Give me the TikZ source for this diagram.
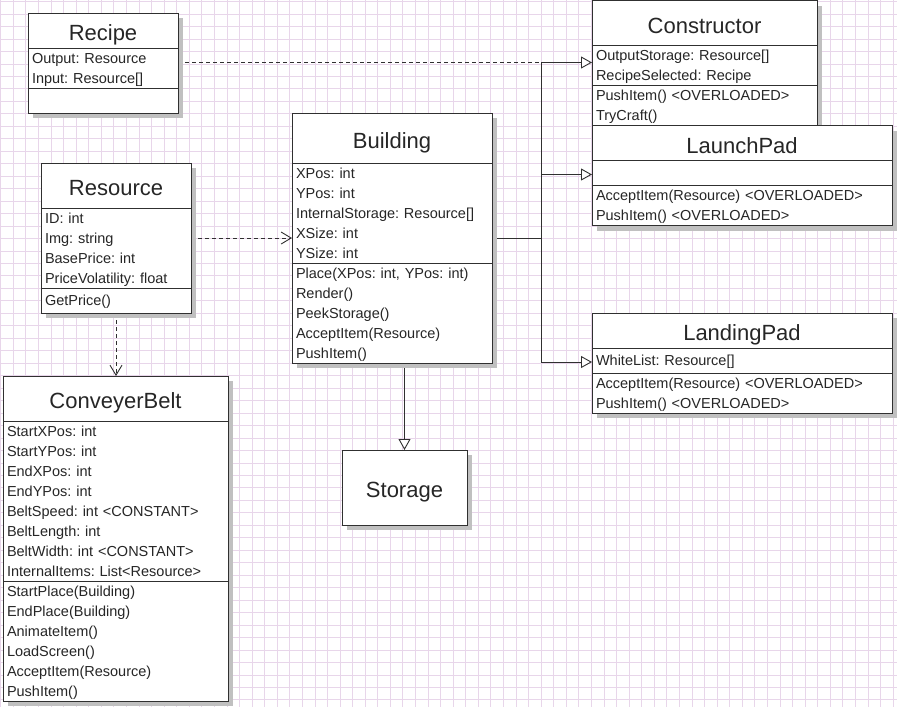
\documentclass[tikz,border=0pt]{standalone}
\usepackage{fontspec}
\setmainfont{Liberation Sans}
\usetikzlibrary{arrows.meta, positioning, shadows, backgrounds}
\definecolor{cline}{HTML}{303030}
\definecolor{ctext}{HTML}{262626}
\definecolor{cgrid}{HTML}{E8D6EA}
\definecolor{cshadow}{HTML}{C0C0C0}
\newcommand\rowstrut{\rule[-5pt]{0pt}{20pt}}
\frenchspacing
\tikzset{
  every node/.style={outer sep=0pt},
  umlbox/.style={draw=cline, fill=white, line width=0.9pt, text=ctext,
    drop shadow={shadow xshift=5pt, shadow yshift=-5pt, fill=cshadow, opacity=1}},
  classname/.style={umlbox, font=\fontsize{22}{26}\selectfont, minimum width=#1,
    inner sep=0pt, text height=20pt, text depth=0pt},
  members/.style={umlbox, font=\fontsize{14.5}{20}\selectfont, text width=#1, align=left,
    inner xsep=4pt, inner ysep=0pt,
    execute at begin node=\rowstrut, execute at end node=\rowstrut},
  gridline/.style={draw=cgrid, line width=0.7pt},
  inherit/.style={draw=cline, line width=0.9pt, -{Triangle[length=11pt, width=12pt, fill=white]}},
  uses/.style={draw=cline, line width=0.9pt, dash pattern=on 4pt off 3pt,
    -{Straight Barb[length=10pt, width=12pt]}},
  dependency/.style={draw=cline, line width=0.9pt, dash pattern=on 4pt off 3pt},
}
\begin{document}
\begin{tikzpicture}[x=1pt, y=-1pt]
  \useasboundingbox (0,0) rectangle (897,707);
  % paper grid
  \begin{scope}[on background layer]
    \fill[white] (0,0) rectangle (897,707);
    \foreach \i in {0,...,71} \draw[gridline] ({0.6+\i*12.57},0) -- ++(0,707);
    \foreach \j in {0,...,56} \draw[gridline] (0,{1.5+\j*12.47}) -- ++(897,0);
  \end{scope}
  % classes
  \node[classname=150pt, minimum height=35pt, anchor=north west] (recipe) at (28,13) {Recipe};
  \node[members=142pt, below=0pt of recipe] (recipe attrs) {Output: Resource\\Input: Resource[]};
  \node[members=142pt, minimum height=25pt, below=0pt of recipe attrs] (recipe ops) {};

  \node[classname=150pt, minimum height=45pt, anchor=north west] (resource) at (41,163) {Resource};
  \node[members=142pt, below=0pt of resource] (resource attrs)
    {ID: int\\Img: string\\BasePrice: int\\PriceVolatility: float};
  \node[members=142pt, minimum height=25pt, below=0pt of resource attrs] (resource ops) {GetPrice()};

  \node[classname=200pt, minimum height=50pt, anchor=north west] (building) at (292,113) {Building};
  \node[members=192pt, below=0pt of building] (building attrs)
    {XPos: int\\YPos: int\\InternalStorage: Resource[]\\XSize: int\\YSize: int};
  \node[members=192pt, below=0pt of building attrs] (building ops)
    {Place(XPos: int, YPos: int)\\Render()\\PeekStorage()\\AcceptItem(Resource)\\PushItem()};

  \node[classname=225pt, minimum height=45pt, anchor=north west] (conveyer) at (3,376) {ConveyerBelt};
  \node[members=217pt, below=0pt of conveyer] (conveyer attrs)
    {StartXPos: int\\StartYPos: int\\EndXPos: int\\EndYPos: int\\BeltSpeed: int <CONSTANT>\\BeltLength: int\\BeltWidth: int <CONSTANT>\\InternalItems: List<Resource>};
  \node[members=217pt, below=0pt of conveyer attrs] (conveyer ops)
    {StartPlace(Building)\\EndPlace(Building)\\AnimateItem()\\LoadScreen()\\AcceptItem(Resource)\\PushItem()};

  \node[classname=125pt, minimum height=75pt, anchor=north west] (storage) at (342,450) {Storage};

  \node[classname=225pt, minimum height=45pt, anchor=north west] (constructor) at (592,0.5) {Constructor};
  \node[members=217pt, below=0pt of constructor] (constructor attrs)
    {OutputStorage: Resource[]\\RecipeSelected: Recipe};
  \node[members=217pt, below=0pt of constructor attrs] (constructor ops)
    {PushItem() <OVERLOADED>\\TryCraft()};

  \node[classname=300pt, minimum height=35pt, below=0pt of constructor ops.south west, anchor=north west] (launchpad) {LaunchPad};
  \node[members=292pt, minimum height=25pt, below=0pt of launchpad] (launchpad attrs) {};
  \node[members=292pt, below=0pt of launchpad attrs] (launchpad ops)
    {AcceptItem(Resource) <OVERLOADED>\\PushItem() <OVERLOADED>};

  \node[classname=300pt, minimum height=35pt, anchor=north west] (landingpad) at (592,313) {LandingPad};
  \node[members=292pt, minimum height=25pt, below=0pt of landingpad] (landingpad attrs) {WhiteList: Resource[]};
  \node[members=292pt, below=0pt of landingpad attrs] (landingpad ops)
    {AcceptItem(Resource) <OVERLOADED>\\PushItem() <OVERLOADED>};

  % relations
  \begin{scope}[on background layer]
    \coordinate (fork) at (541,238);
    \coordinate (con in) at ([yshift=-17pt]constructor attrs.north west);
    \draw[inherit] (building attrs.east |- fork) -- (fork) |- (con in);
    \draw[inherit] (fork) |- ([yshift=-14pt]launchpad attrs.north west);
    \draw[inherit] (fork) |- ([yshift=-14pt]landingpad attrs.north west);
    \draw[dependency] (recipe attrs.east |- con in) -- (fork |- con in);
    \draw[uses] (resource attrs.east |- fork) -- (building attrs.west |- fork);
    \draw[uses] (resource ops.south) -- (resource ops.south |- conveyer.north);
    \draw[inherit] (building ops.south -| storage.north) -- (storage.north);
  \end{scope}
\end{tikzpicture}
\end{document}
